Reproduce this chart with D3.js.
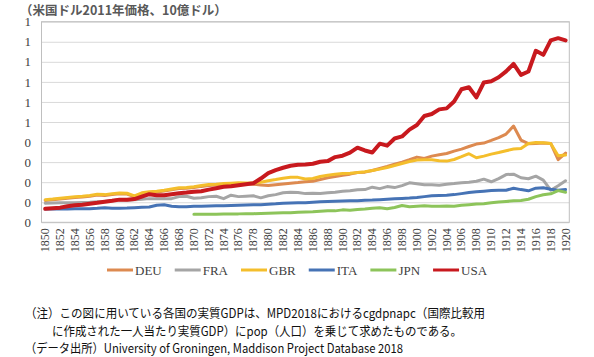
<!DOCTYPE html>
<html><head><meta charset="utf-8">
<script src="https://cdn.jsdelivr.net/npm/d3@7"></script>
<style>
html,body{margin:0;padding:0;background:#fff;}
svg{display:block;}
</style></head>
<body>
<svg id="chart" width="594" height="357"></svg>
<script>
const years = [1850,1851,1852,1853,1854,1855,1856,1857,1858,1859,1860,1861,1862,1863,1864,1865,1866,1867,1868,1869,1870,1871,1872,1873,1874,1875,1876,1877,1878,1879,1880,1881,1882,1883,1884,1885,1886,1887,1888,1889,1890,1891,1892,1893,1894,1895,1896,1897,1898,1899,1900,1901,1902,1903,1904,1905,1906,1907,1908,1909,1910,1911,1912,1913,1914,1915,1916,1917,1918,1919,1920];
const DEU = [109,112,116,120,123,126,130,136,134,138,142,141,128,143,148,151,156,162,168,170,173,179,184,186,189,191,193,192,190,186,183,187,191,195,198,202,205,213,222,228,235,240,248,250,258,268,278,290,300,312,325,318,330,337,343,355,365,378,390,395,408,422,440,480,410,392,393,395,393,312,345];
const FRA = [95,96,97,97,98,99,100,102,104,108,112,110,112,115,118,118,118,118,128,130,120,122,128,130,118,135,128,130,132,122,132,138,147,150,148,143,145,143,147,150,155,157,162,163,175,168,178,173,183,197,192,187,187,185,190,193,197,200,205,215,202,218,238,240,222,217,230,210,160,182,207];
const GBR = [113,116,120,124,127,130,134,140,138,142,146,145,132,147,152,155,160,166,172,174,177,183,188,190,193,195,197,196,197,200,207,213,220,225,224,216,218,228,235,240,243,245,248,252,258,265,273,283,293,303,310,312,312,307,305,313,327,342,322,330,340,348,357,365,368,393,398,397,393,332,335];
const ITA = [66,66,66,66,67,67,68,70,73,70,70,71,73,75,76,85,87,80,77,78,80,80,81,82,83,84,85,86,87,88,90,92,95,96,97,98,100,102,104,105,106,107,108,110,111,113,115,117,119,121,124,128,132,134,135,138,143,148,152,155,158,160,160,170,163,157,170,172,165,160,163];
const JPN = [null,null,null,null,null,null,null,null,null,null,null,null,null,null,null,null,null,null,null,null,40,40,40,40,41,42,42,43,43,44,45,46,47,48,50,51,52,55,58,57,62,60,64,66,70,72,68,74,84,78,80,82,80,80,81,80,85,88,91,93,97,101,104,107,109,115,128,137,142,158,150];
const USA = [67,70,73,80,85,88,93,97,102,107,113,113,116,128,140,135,135,140,145,148,152,155,163,170,177,180,185,190,195,218,245,260,272,282,287,288,292,302,305,325,332,347,372,358,348,392,382,418,428,462,485,530,540,563,568,602,663,673,623,697,703,723,752,790,735,752,855,835,907,918,907];
const seriesNames = ["DEU","FRA","GBR","ITA","JPN","USA"];
const yTickValues = [0,100,200,300,400,500,600,700,800,900,1000];
const yTickLabels = ["0","0","0","0","0","1","1","1","1","1","1"];
const xTickYears = [1850,1852,1854,1856,1858,1860,1862,1864,1866,1868,1870,1872,1874,1876,1878,1880,1882,1884,1886,1888,1890,1892,1894,1896,1898,1900,1902,1904,1906,1908,1910,1912,1914,1916,1918,1920];
const title = "（米国ドル2011年価格、10億ドル）";
const notes = [
  "（注）この図に用いている各国の実質GDPは、MPD2018におけるcgdpnapc（国際比較用",
  "に作成された一人当たり実質GDP）にpop（人口）を乗じて求めたものである。",
  "（データ出所）University of Groningen, Maddison Project Database 2018"
];

const seriesData = {DEU, FRA, GBR, ITA, JPN, USA};
const colors = {DEU:"#DD8A50", FRA:"#A5A5A5", GBR:"#F4BE2C", ITA:"#4673B5", JPN:"#8DC45A", USA:"#C8191E"};
const widths = {DEU:3, FRA:3, GBR:3, ITA:3, JPN:3, USA:4};

const svg = d3.select("#chart");
const L = 41.5, R = 569.3, T = 21.7, B = 222.3;
const x = d3.scaleBand().domain(years).range([L, R]).padding(0);
const cx = d => x(d) + x.bandwidth()/2;
const y = d3.scaleLinear().domain([0, 1000]).range([B, T]);

// gridlines
svg.append("g").attr("transform", `translate(${L},0)`)
  .call(d3.axisLeft(y).tickValues(yTickValues).tickSize(-(R-L)).tickFormat(""))
  .call(g => g.select(".domain").remove())
  .call(g => g.selectAll("line").attr("stroke", "#D9D9D9").attr("stroke-width", 1));

// plot border
svg.append("rect").attr("x", L).attr("y", T).attr("width", R-L).attr("height", B-T)
  .attr("fill", "none").attr("stroke", "#BFBFBF").attr("stroke-width", 1);

// y labels
svg.append("g").attr("transform", `translate(31,0)`)
  .call(d3.axisLeft(y).tickValues(yTickValues).tickSize(0).tickPadding(0)
    .tickFormat((d,i) => yTickLabels[i]))
  .call(g => g.select(".domain").remove())
  .call(g => g.selectAll("text").attr("font-family", "'Liberation Serif', serif")
    .attr("font-size", 13).attr("fill", "#404040"));

// x labels
svg.append("g").attr("transform", `translate(0,${B})`)
  .call(d3.axisBottom(x).tickValues(xTickYears).tickSize(0))
  .call(g => g.select(".domain").remove())
  .call(g => g.selectAll("text")
    .attr("font-family", "'Liberation Serif', serif").attr("font-size", 12).attr("fill", "#404040")
    .attr("transform", "rotate(-90)").attr("text-anchor", "end")
    .attr("x", -6).attr("y", 0).attr("dy", "0.33em"));

// lines
const line = d3.line().defined(d => d.v != null).x(d => cx(d.year)).y(d => y(d.v));
seriesNames.forEach(name => {
  const pts = years.map((yr, i) => ({year: yr, v: seriesData[name][i]}));
  svg.append("path").datum(pts).attr("d", line)
    .attr("fill", "none").attr("stroke", colors[name]).attr("stroke-width", widths[name])
    .attr("stroke-linejoin", "round").attr("stroke-linecap", "round");
});

// legend
let lx = 107;
const ly = 270;
seriesNames.forEach(name => {
  const g = svg.append("g");
  g.append("line").attr("x1", lx).attr("x2", lx + 26).attr("y1", ly).attr("y2", ly)
    .attr("stroke", colors[name]).attr("stroke-width", 3);
  const t = g.append("text").attr("x", lx + 28).attr("y", ly).attr("dy", "0.35em")
    .attr("font-family", "'Liberation Serif', serif").attr("font-size", 13).attr("fill", "#404040")
    .text(name);
  lx += 28 + t.node().getComputedTextLength() + 13;
});

// title
svg.append("text").attr("x", 20).attr("y", 14.5).attr("font-family", "'Noto Sans CJK JP', sans-serif")
  .attr("font-size", 12.5).attr("font-weight", "bold").attr("fill", "#595959").text(title);

// notes
const noteX = [25, 52, 25], noteY = [317.5, 335.5, 353], noteW = [460, 410, 378];
notes.forEach((s, i) => {
  svg.append("text").attr("x", noteX[i]).attr("y", noteY[i])
    .attr("font-family", "'Noto Sans CJK JP', sans-serif").attr("font-size", 12.5).attr("fill", "#111")
    .attr("textLength", noteW[i]).attr("lengthAdjust", "spacingAndGlyphs")
    .text(s);
});
</script>
</body></html>
